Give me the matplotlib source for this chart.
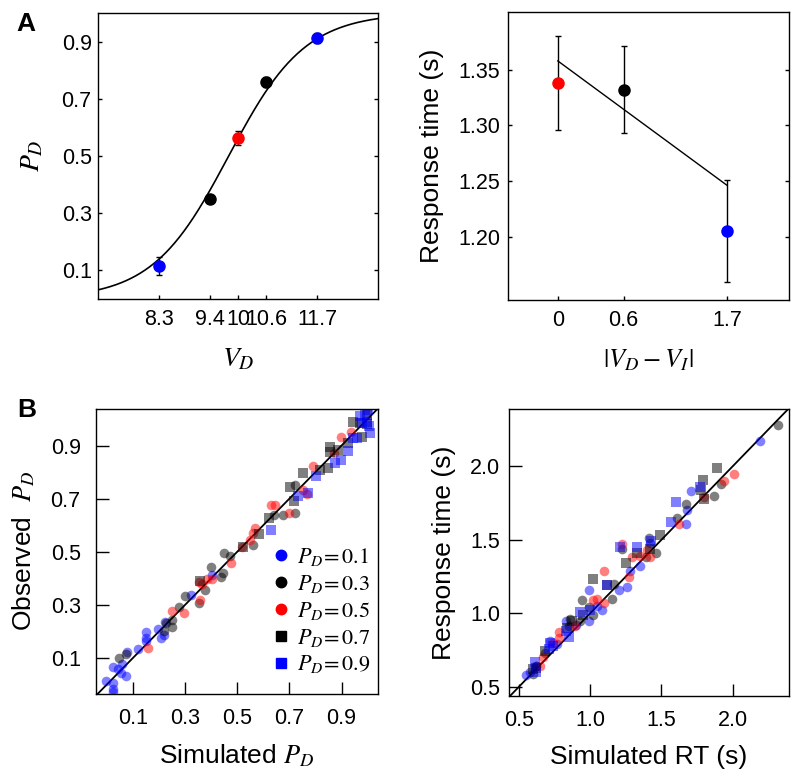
import numpy as np
from matplotlib import pyplot as plt
from matplotlib.lines import Line2D

plt.rcParams["font.family"] = ["Liberation Sans", "DejaVu Sans"]
plt.rcParams["mathtext.fontset"] = "stix"

# ---- panel A (left): choice probability vs V_D
vd = [8.3, 9.4, 10.0, 10.6, 11.7]
pd_obs = [0.116, 0.350, 0.563, 0.758, 0.912]
pd_err = [0.032, 0.015, 0.024, 0.018, 0.018]
pd_cols = ["blue", "black", "red", "black", "blue"]
vd_ticks = [8.3, 9.4, 10.0, 10.6, 11.7]
vd_ticklabels = ["8.3", "9.4", "10", "10.6", "11.7"]
# logistic fit
fit_x0 = 9.8
fit_k = 1.22

# ---- panel A (right): response time vs |VD - VI|
dv = [0.0, 0.66, 1.7]
dv_ticklabels = ["0", "0.6", "1.7"]
rt_obs = [1.338, 1.332, 1.205]
rt_err = [0.042, 0.039, 0.046]
rt_cols = ["red", "black", "blue"]
rt_line_x = [0.0, 1.7]
rt_line_y = [1.358, 1.246]

# ---- panel B (left): observed vs simulated P_D
pb_sim = {
    "0.1": [-0.004, 0.024, 0.024, 0.024, 0.021, 0.043, 0.052, 0.072, 0.057, 0.075,
            0.12, 0.148, 0.148, 0.148, 0.196, 0.205, 0.218, 0.221, 0.32, 0.404],
    "0.3": [0.046, 0.072, 0.218, 0.224, 0.248, 0.25, 0.276, 0.30, 0.353, 0.376,
            0.40, 0.437, 0.449, 0.443, 0.472, 0.559, 0.64, 0.676, 0.721, 0.72],
    "0.5": [0.158, 0.25, 0.295, 0.357, 0.363, 0.353, 0.382, 0.402, 0.475, 0.516,
            0.55, 0.568, 0.56, 0.628, 0.646, 0.70, 0.753, 0.766, 0.789, 0.872,
            0.897, 0.936],
    "0.7": [0.357, 0.523, 0.583, 0.623, 0.717, 0.702, 0.753, 0.817, 0.849, 0.855,
            0.855, 0.926, 0.945, 0.977, 0.971, 0.996, 0.999, 0.888],
    "0.9": [0.628, 0.734, 0.773, 0.80, 0.875, 0.897, 0.926, 0.943, 0.958, 0.971,
            0.99, 1.003, 1.007, 1.01, 0.977, 0.996],
}
pb_obs = {
    "0.1": [0.013, 0.006, -0.019, -0.028, 0.064, 0.056, 0.041, 0.031, 0.076, 0.123,
            0.132, 0.198, 0.173, 0.164, 0.207, 0.173, 0.186, 0.236, 0.337, 0.412],
    "0.3": [0.099, 0.114, 0.202, 0.23, 0.217, 0.242, 0.29, 0.333, 0.305, 0.355,
            0.443, 0.403, 0.494, 0.421, 0.484, 0.523, 0.637, 0.638, 0.645, 0.75],
    "0.5": [0.138, 0.277, 0.27, 0.318, 0.378, 0.387, 0.396, 0.396, 0.456, 0.517,
            0.544, 0.588, 0.572, 0.676, 0.676, 0.645, 0.733, 0.718, 0.821, 0.871,
            0.932, 0.951],
    "0.7": [0.39, 0.516, 0.567, 0.626, 0.689, 0.745, 0.795, 0.808, 0.817, 0.894,
            0.874, 0.909, 0.99, 0.934, 0.985, 1.016, 0.982, 0.884],
    "0.9": [0.582, 0.708, 0.72, 0.785, 0.836, 0.846, 0.881, 0.928, 0.928, 1.01,
            1.016, 1.033, 0.972, 0.949, 0.985, 0.99],
}

# ---- panel B (right): observed vs simulated RT
rt_sim = {
    "0.1": [2.19, 1.71, 1.68, 1.67, 1.42, 1.35, 1.28, 1.26, 1.20, 1.08,
            0.99, 0.99, 0.83, 0.72, 0.77, 0.55, 0.62, 0.58, 1.05, 0.90],
    "0.3": [2.32, 1.92, 1.87, 1.67, 1.61, 1.41, 1.46, 1.39, 1.22, 1.17,
            1.15, 0.94, 0.99, 1.02, 0.93, 0.85, 0.86, 0.68, 0.60, 0.62],
    "0.5": [2.01, 1.94, 1.80, 1.62, 1.40, 1.42, 1.35, 1.29, 1.27, 1.22,
            1.10, 1.02, 1.10, 0.89, 0.78, 0.78, 0.74, 0.67, 0.65, 1.05],
    "0.7": [1.89, 1.79, 1.80, 1.78, 1.49, 1.33, 1.25, 1.02, 1.12, 0.87,
            0.84, 0.68, 0.60, 0.62, 1.42, 0.95],
    "0.9": [1.77, 1.60, 1.57, 1.33, 1.21, 1.12, 0.93, 0.85, 0.74, 0.71,
            0.61, 0.62, 1.43, 0.72, 1.00, 0.83],
}
rt_emp = {
    "0.1": [2.17, 1.83, 1.70, 1.61, 1.48, 1.32, 1.29, 1.18, 1.16, 1.02,
            1.16, 0.95, 0.95, 0.81, 0.79, 0.58, 0.64, 0.60, 1.05, 0.92],
    "0.3": [2.28, 1.88, 1.80, 1.74, 1.65, 1.51, 1.41, 1.38, 1.44, 1.20,
            1.10, 1.09, 1.04, 0.99, 0.95, 0.91, 0.96, 0.73, 0.59, 0.64],
    "0.5": [1.95, 1.90, 1.79, 1.61, 1.43, 1.38, 1.39, 1.38, 1.25, 1.47,
            1.29, 1.09, 1.07, 0.91, 0.87, 0.83, 0.80, 0.70, 0.64, 1.10],
    "0.7": [1.99, 1.91, 1.78, 1.84, 1.53, 1.41, 1.34, 1.23, 1.19, 0.95,
            0.90, 0.74, 0.62, 0.63, 1.44, 0.99],
    "0.9": [1.86, 1.76, 1.62, 1.45, 1.45, 1.19, 1.01, 0.84, 0.78, 0.76,
            0.67, 0.60, 1.49, 0.80, 1.02, 0.88],
}

levels = ["0.1", "0.3", "0.5", "0.7", "0.9"]
level_colors = ["blue", "black", "red", "black", "blue"]
level_markers = ["o", "o", "o", "s", "s"]


def style_axes(ax, ticklen, xpad, ypad, both_sides=False):
    ax.tick_params(direction="in", length=ticklen, width=1, labelsize=15.5,
                   right=both_sides)
    ax.tick_params(axis="x", pad=xpad)
    ax.tick_params(axis="y", pad=ypad)
    for sp in ax.spines.values():
        sp.set_linewidth(1.0)


fig = plt.figure(figsize=(8, 7.8), dpi=100)

# A left
ax1 = fig.add_axes([0.1225, 0.6167, 0.35, 0.3667])
xs = np.linspace(7, 13, 300)
ax1.plot(xs, 1 / (1 + np.exp(-fit_k * (xs - fit_x0))), color="black", lw=1.2)
for x, y, e, c in zip(vd, pd_obs, pd_err, pd_cols):
    ax1.errorbar(x, y, yerr=e, fmt="o", color=c, ecolor="black", ms=8,
                 elinewidth=1, capsize=2, capthick=1, zorder=3)
ax1.set_xlim(7, 13)
ax1.set_ylim(0, 1)
ax1.set_xticks(vd_ticks)
ax1.set_xticklabels(vd_ticklabels)
ax1.set_yticks([0.1, 0.3, 0.5, 0.7, 0.9])
ax1.set_xlabel("$V_D$", fontsize=20, labelpad=12)
ax1.set_ylabel("$P_D$", fontsize=20, labelpad=12)
style_axes(ax1, 3, 7, 4.5, both_sides=True)

# A right
ax2 = fig.add_axes([0.635, 0.6154, 0.35125, 0.3692])
ax2.plot(rt_line_x, rt_line_y, color="black", lw=1)
for x, y, e, c in zip(dv, rt_obs, rt_err, rt_cols):
    ax2.errorbar(x, y, yerr=e, fmt="o", color=c, ecolor="black", ms=8,
                 elinewidth=1, capsize=2, capthick=1, zorder=3)
ax2.set_xlim(-0.5, 2.32)
ax2.set_ylim(1.143, 1.402)
ax2.set_xticks(dv)
ax2.set_xticklabels(dv_ticklabels)
ax2.set_yticks([1.20, 1.25, 1.30, 1.35])
ax2.set_yticklabels(["1.20", "1.25", "1.30", "1.35"])
ax2.set_xlabel("$|V_D - V_I|$", fontsize=19, labelpad=12)
ax2.set_ylabel("Response time (s)", fontsize=19, labelpad=10)
style_axes(ax2, 3, 7, 5.5, both_sides=True)

# B left
ax3 = fig.add_axes([0.12, 0.1103, 0.3525, 0.3654])
lim3 = (-0.043, 1.04)
ax3.plot(lim3, lim3, color="black", lw=1.3, zorder=1)
for lv, c, m in zip(levels, level_colors, level_markers):
    ax3.scatter(pb_sim[lv], pb_obs[lv], s=48, c=c, marker=m, alpha=0.5,
                linewidths=0, zorder=2)
ax3.set_xlim(lim3)
ax3.set_ylim(-0.037, 1.038)
ax3.set_xticks([0.1, 0.3, 0.5, 0.7, 0.9])
ax3.set_yticks([0.1, 0.3, 0.5, 0.7, 0.9])
ax3.set_xlabel("Simulated $P_D$", fontsize=19, labelpad=10)
ax3.set_ylabel("Observed  $P_D$", fontsize=19, labelpad=10)
style_axes(ax3, 9, 10, 11)
handles = [Line2D([], [], marker=m, color=c, ls="none", ms=7.5)
           for c, m in zip(level_colors, level_markers)]
ax3.legend(handles, [r"$P_D\!= %s$" % lv for lv in levels], loc="lower right",
           bbox_to_anchor=(0.975, 0.065), frameon=False, fontsize=16,
           handletextpad=0.25, labelspacing=0.22, borderaxespad=0, borderpad=0,
           handlelength=1.0)

# B right
ax4 = fig.add_axes([0.63625, 0.1077, 0.35, 0.368])
lim4 = (0.43, 2.395)
ax4.plot(lim4, lim4, color="black", lw=1.3, zorder=1)
for lv, c, m in zip(levels, level_colors, level_markers):
    ax4.scatter(rt_sim[lv], rt_emp[lv], s=48, c=c, marker=m, alpha=0.5,
                linewidths=0, zorder=2)
ax4.set_xlim(lim4)
ax4.set_ylim(0.437, 2.39)
ax4.set_xticks([0.5, 1.0, 1.5, 2.0])
ax4.set_yticks([0.5, 1.0, 1.5, 2.0])
ax4.set_xlabel("Simulated RT (s)", fontsize=19, labelpad=10)
ax4.set_ylabel("Response time (s)", fontsize=19, labelpad=10)
style_axes(ax4, 9, 10, 6.5)

fig.text(0.021, 0.985, "A", fontsize=19, fontweight="bold", va="top")
fig.text(0.021, 0.49, "B", fontsize=19, fontweight="bold", va="top")

fig.savefig("out.png", dpi=100)
